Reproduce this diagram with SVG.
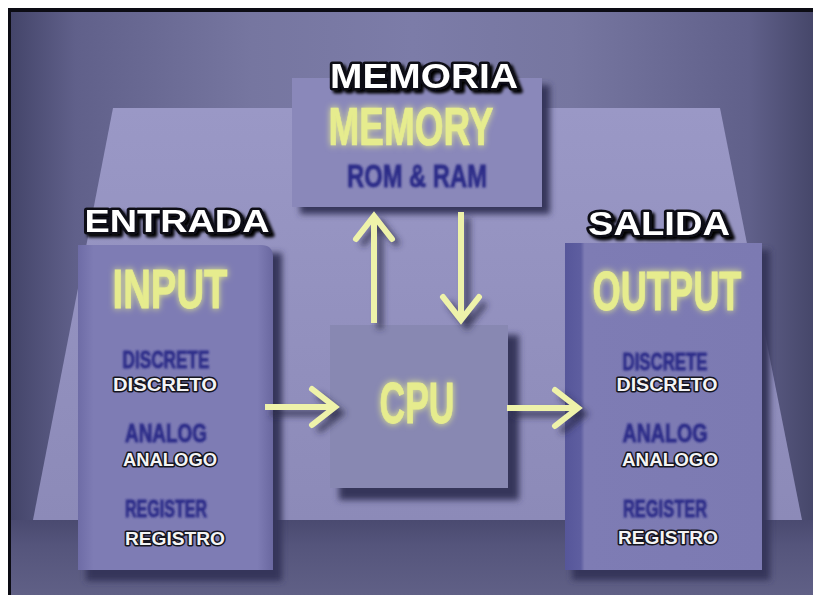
<svg xmlns="http://www.w3.org/2000/svg" width="813" height="595" viewBox="0 0 813 595">
<defs>
<style>
.hdr{font-family:"Liberation Sans",Arial,sans-serif;font-weight:bold;fill:#ffffff;stroke:#101018;stroke-width:5;stroke-linejoin:round;paint-order:stroke;text-anchor:middle}
.yel{font-family:"Liberation Sans",Arial,sans-serif;font-weight:bold;fill:#e6ec8e;stroke:#e6ec8e;stroke-width:0.6;text-anchor:middle}
.blu{font-family:"Liberation Sans",Arial,sans-serif;font-weight:bold;fill:#2c2c88;stroke:#2c2c88;stroke-width:0.8;text-anchor:middle}
.wht{font-family:"Liberation Sans",Arial,sans-serif;font-weight:bold;fill:#f4f4f4;stroke:#15151f;stroke-width:3;stroke-linejoin:round;paint-order:stroke;text-anchor:middle}
.arr{fill:none;stroke:#eef2aa;stroke-width:6;marker-end:url(#head)}
.arrs{fill:none;stroke:#2a2a48;stroke-width:6;opacity:0.8;marker-end:url(#heads)}
.shadow{fill:#34345a}
</style>
<linearGradient id="bg" x1="0" y1="0" x2="1" y2="0">
<stop offset="0" stop-color="#44456a"/>
<stop offset="0.08" stop-color="#60608a"/>
<stop offset="0.3" stop-color="#7676a0"/>
<stop offset="0.5" stop-color="#7c7ca8"/>
<stop offset="0.7" stop-color="#7676a0"/>
<stop offset="0.92" stop-color="#60608a"/>
<stop offset="1" stop-color="#46476a"/>
</linearGradient>
<linearGradient id="plat" x1="0" y1="0" x2="0" y2="1">
<stop offset="0" stop-color="#9a98c6"/>
<stop offset="1" stop-color="#8c8ab8"/>
</linearGradient>
<linearGradient id="floor" x1="0" y1="0" x2="0" y2="1">
<stop offset="0" stop-color="#4a4a70"/>
<stop offset="0.35" stop-color="#55557c"/>
<stop offset="1" stop-color="#606086"/>
</linearGradient>
<linearGradient id="sideL" x1="0" y1="0" x2="1" y2="0">
<stop offset="0" stop-color="#6e6ca6"/>
<stop offset="0.08" stop-color="#7e7cb4"/>
<stop offset="0.92" stop-color="#7e7cb4"/>
<stop offset="1" stop-color="#6a68a0"/>
</linearGradient>
<linearGradient id="sideR" x1="0" y1="0" x2="1" y2="0">
<stop offset="0" stop-color="#56569a"/>
<stop offset="0.08" stop-color="#5e5ea0"/>
<stop offset="0.1" stop-color="#7e7cb4"/>
<stop offset="1" stop-color="#7c7ab2"/>
</linearGradient>
<filter id="blur" x="-20%" y="-20%" width="140%" height="140%"><feGaussianBlur stdDeviation="3"/></filter>
<filter id="glow" x="-30%" y="-50%" width="160%" height="200%">
<feGaussianBlur in="SourceGraphic" stdDeviation="3" result="b"/>
<feMerge><feMergeNode in="b"/><feMergeNode in="SourceGraphic"/></feMerge>
</filter>
<filter id="soft" x="-20%" y="-50%" width="140%" height="200%"><feGaussianBlur stdDeviation="0.8"/></filter>
<filter id="drop" x="-20%" y="-50%" width="140%" height="200%">
<feOffset dx="3" dy="3" in="SourceAlpha" result="o"/>
<feGaussianBlur in="o" stdDeviation="1.5" result="ob"/>
<feMerge><feMergeNode in="ob"/><feMergeNode in="SourceGraphic"/></feMerge>
</filter>
<marker id="head" markerUnits="userSpaceOnUse" viewBox="0 0 44 44" markerWidth="44" markerHeight="44" refX="38" refY="22" orient="auto" overflow="visible">
<path d="M15,4 L38,22 L15,40" fill="none" stroke="#eef2aa" stroke-width="6" stroke-linejoin="miter" stroke-linecap="round"/>
</marker>
<marker id="heads" markerUnits="userSpaceOnUse" viewBox="0 0 44 44" markerWidth="44" markerHeight="44" refX="38" refY="22" orient="auto" overflow="visible">
<path d="M15,4 L38,22 L15,40" fill="none" stroke="#2a2a48" stroke-width="6" stroke-linejoin="miter"/>
</marker>
</defs>

<rect x="0" y="0" width="813" height="595" fill="#ffffff"/>
<rect x="8" y="8" width="805" height="587" fill="#0c0c14"/>
<rect x="11" y="12" width="802" height="583" fill="url(#bg)"/>
<polygon points="113,108 720,108 802,520 33,520" fill="url(#plat)"/>
<rect x="11" y="520" width="802" height="75" fill="url(#floor)"/>

<g id="memory">
<rect class="shadow" x="300" y="85" width="250" height="129" filter="url(#blur)"/>
<rect x="292" y="78" width="250" height="129" fill="#8a88ba"/>
<text class="hdr" x="424" y="88" font-size="35" textLength="188" lengthAdjust="spacingAndGlyphs" filter="url(#drop)">MEMORIA</text>
<text class="yel" transform="translate(411,145) scale(1,1.2)" x="0" y="0" font-size="45" textLength="165" lengthAdjust="spacingAndGlyphs" filter="url(#glow)">MEMORY</text>
<text class="blu" x="417" y="187" font-size="31" textLength="140" lengthAdjust="spacingAndGlyphs" filter="url(#soft)">ROM &amp; RAM</text>
</g>

<g id="input">
<rect class="shadow" x="86" y="253" width="196" height="328" filter="url(#blur)"/>
<path d="M78,245 H261 Q273,245 273,257 V570 H78 Z" fill="url(#sideL)"/>
<text class="hdr" x="177" y="232" font-size="31" textLength="185" lengthAdjust="spacingAndGlyphs" filter="url(#drop)">ENTRADA</text>
<text class="yel" transform="translate(170,308) scale(1,1.25)" x="0" y="0" font-size="45" textLength="115" lengthAdjust="spacingAndGlyphs" filter="url(#glow)">INPUT</text>
<text class="blu" x="166" y="368" font-size="24" textLength="87" lengthAdjust="spacingAndGlyphs" filter="url(#soft)">DISCRETE</text>
<text class="wht" x="165" y="391" font-size="18" textLength="104" lengthAdjust="spacingAndGlyphs">DISCRETO</text>
<text class="blu" x="166" y="442" font-size="25" textLength="82" lengthAdjust="spacingAndGlyphs" filter="url(#soft)">ANALOG</text>
<text class="wht" x="170" y="466" font-size="18" textLength="94" lengthAdjust="spacingAndGlyphs">ANALOGO</text>
<text class="blu" x="166" y="517" font-size="24" textLength="82" lengthAdjust="spacingAndGlyphs" filter="url(#soft)">REGISTER</text>
<text class="wht" x="175" y="545" font-size="18" textLength="100" lengthAdjust="spacingAndGlyphs">REGISTRO</text>
</g>

<g id="cpu">
<rect class="shadow" x="339" y="335" width="180" height="165" filter="url(#blur)"/>
<rect x="330" y="325" width="178" height="163" fill="#8888b2"/>
<text class="yel" transform="translate(417,423) scale(1,1.25)" x="0" y="0" font-size="46" textLength="75" lengthAdjust="spacingAndGlyphs" filter="url(#glow)">CPU</text>
</g>

<g id="output">
<rect class="shadow" x="572" y="250" width="198" height="330" filter="url(#blur)"/>
<rect x="565" y="243" width="197" height="327" fill="url(#sideR)"/>
<text class="hdr" x="659" y="235" font-size="33" textLength="142" lengthAdjust="spacingAndGlyphs" filter="url(#drop)">SALIDA</text>
<text class="yel" transform="translate(667,310) scale(1,1.25)" x="0" y="0" font-size="45" textLength="149" lengthAdjust="spacingAndGlyphs" filter="url(#glow)">OUTPUT</text>
<text class="blu" x="665" y="370" font-size="24" textLength="85" lengthAdjust="spacingAndGlyphs" filter="url(#soft)">DISCRETE</text>
<text class="wht" x="667" y="391" font-size="18" textLength="101" lengthAdjust="spacingAndGlyphs">DISCRETO</text>
<text class="blu" x="665" y="442" font-size="25" textLength="85" lengthAdjust="spacingAndGlyphs" filter="url(#soft)">ANALOG</text>
<text class="wht" x="670" y="466" font-size="18" textLength="96" lengthAdjust="spacingAndGlyphs">ANALOGO</text>
<text class="blu" x="665" y="517" font-size="24" textLength="84" lengthAdjust="spacingAndGlyphs" filter="url(#soft)">REGISTER</text>
<text class="wht" x="668" y="544" font-size="18" textLength="100" lengthAdjust="spacingAndGlyphs">REGISTRO</text>
</g>

<g id="connectors">
<g filter="url(#blur)">
<path class="arrs" d="M380,329 V222"/>
<path class="arrs" d="M467,218 V326"/>
<path class="arrs" d="M271,413 H341"/>
<path class="arrs" d="M513,414 H584"/>
</g>
<path class="arr" d="M374,323 V216"/>
<path class="arr" d="M461,212 V320"/>
<path class="arr" d="M265,407 H335"/>
<path class="arr" d="M507,408 H578"/>
</g>
</svg>
